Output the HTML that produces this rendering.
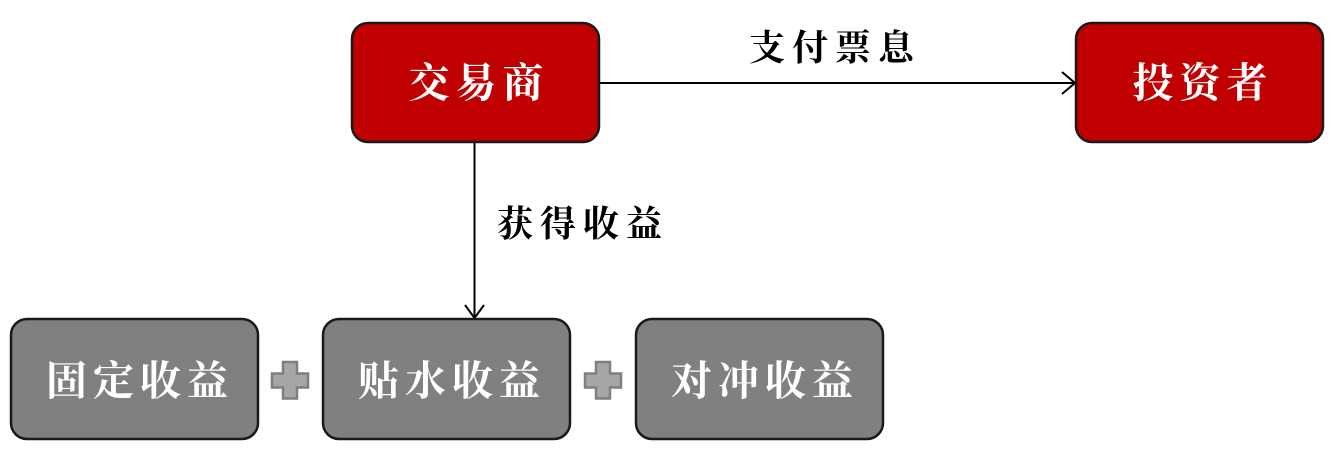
<!DOCTYPE html>
<html><head><meta charset="utf-8"><style>
html,body{margin:0;padding:0;background:#fff;}
svg{display:block;}
text{font-family:"Liberation Serif","Noto Serif CJK SC","AR PL UKai CN",serif;}
</style></head><body>
<svg width="1335" height="450" viewBox="0 0 1335 450" xmlns="http://www.w3.org/2000/svg">
  <!-- connectors -->
  <line x1="599" y1="83" x2="1074" y2="83" stroke="#000" stroke-width="2"/>
  <polyline points="1062,72 1075,83 1062,94" fill="none" stroke="#000" stroke-width="2"/>
  <line x1="474.5" y1="142" x2="474.5" y2="317" stroke="#000" stroke-width="2"/>
  <polyline points="465,305 474.5,318 484,305" fill="none" stroke="#000" stroke-width="2"/>

  <!-- red boxes -->
  <rect x="352" y="23" width="247" height="119" rx="16" ry="16" fill="#C00000" stroke="#1a1a1a" stroke-width="2.5"/>
  <rect x="1076" y="23" width="247" height="119" rx="16" ry="16" fill="#C00000" stroke="#1a1a1a" stroke-width="2.5"/>

  <!-- gray boxes -->
  <rect x="11" y="319" width="247" height="120" rx="16" ry="16" fill="#808080" stroke="#1a1a1a" stroke-width="2.5"/>
  <rect x="323" y="319" width="247" height="120" rx="16" ry="16" fill="#808080" stroke="#1a1a1a" stroke-width="2.5"/>
  <rect x="636" y="319" width="247" height="120" rx="16" ry="16" fill="#808080" stroke="#1a1a1a" stroke-width="2.5"/>

  <!-- plus icons -->
  <path d="M283,362 h14 v11.5 h11 v14 h-11 v11 h-14 v-11 h-11 v-14 h11 z" fill="#a6a6a6" stroke="#7f7f7f" stroke-width="2.5"/>
  <path d="M596,362 h14 v11.5 h11 v14 h-11 v11 h-14 v-11 h-11 v-14 h11 z" fill="#a6a6a6" stroke="#7f7f7f" stroke-width="2.5"/>

  <!-- box labels -->
  <g fill="#fff" font-size="41" font-weight="bold" text-anchor="middle" letter-spacing="6">
    <text x="479" y="97">交易商</text>
    <text x="1203" y="97">投资者</text>
    <text x="140" y="395">固定收益</text>
    <text x="452" y="395">贴水收益</text>
    <text x="765" y="395">对冲收益</text>
  </g>

  <!-- connector labels -->
  <g fill="#000" font-size="36" font-weight="bold" letter-spacing="7">
    <text x="749" y="60">支付票息</text>
    <text x="497" y="236">获得收益</text>
  </g>
</svg>
</body></html>
